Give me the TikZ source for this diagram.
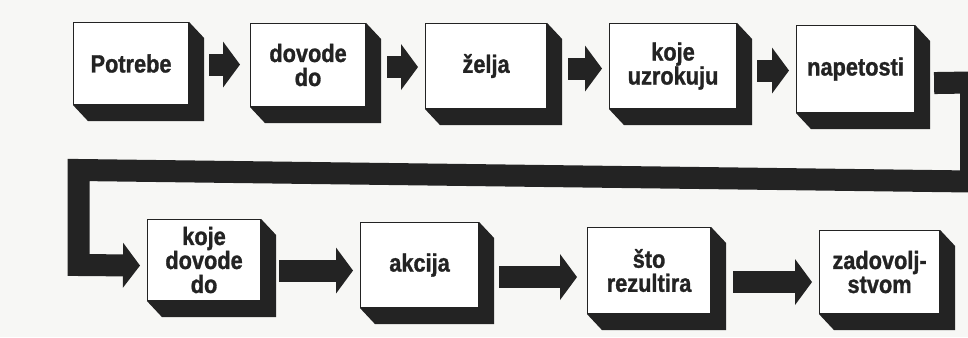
\documentclass[tikz,border=0pt]{standalone}
\usepackage{fontspec}
\setmainfont[FakeStretch=0.87,BoldFeatures={FakeBold=1.2}]{Liberation Sans}
\usetikzlibrary{arrows.meta,calc}
\definecolor{ink}{HTML}{232323}
\definecolor{paper}{HTML}{F7F7F5}
\newcommand\boxshade[1]{\fill[ink] (#1.north east) -- ++(15,16) -- ($(#1.south east)+(15,16)$) -- ($(#1.south west)+(15,16)$) -- (#1.south west) -- (#1.south east) -- cycle;}
\begin{document}
\begin{tikzpicture}[x=1pt,y=-1pt,
  box/.style={draw=ink, line width=1.1pt, fill=white, anchor=north west, align=center, inner sep=0pt, text=ink, font=\bfseries\fontsize{25}{24}\selectfont},
  barrow/.style={draw=ink, line width=22pt, line join=miter, -{Triangle[length=17pt,width=46pt,line width=0pt]}},
  bandarrow/.style={draw=ink, line width=22pt, line join=miter, -{Triangle[length=17pt,width=45pt,line width=0pt]}}
]
\useasboundingbox (0,0) rectangle (968,337);
\clip (0,0) rectangle (968,337);
\fill[paper] (0,0) rectangle (968,337);

% top row
\node[box, minimum width=115pt, minimum height=82pt] (p1) at (73,22) {Potrebe};
\node[box, minimum width=115pt, minimum height=83pt] (p2) at (250,23) {dovode\\do};
\node[box, minimum width=121pt, minimum height=85pt] (p3) at (425,23) {želja};
\node[box, minimum width=127pt, minimum height=85pt] (p4) at (609,23) {koje\\uzrokuju};
\node[box, minimum width=118pt, minimum height=87pt] (p5) at (796,25) {napetosti};
% bottom row
\node[box, minimum width=113pt, minimum height=81pt] (p6) at (147,219) {koje\\dovode\\do};
\node[box, minimum width=118pt, minimum height=85pt] (p7) at (360,222) {akcija};
\node[box, minimum width=123pt, minimum height=86pt] (p8) at (587,227) {što\\rezultira};
\node[box, minimum width=120pt, minimum height=83pt] (p9) at (819,230) {zadovolj-\\stvom};

\foreach \b in {p1,p2,p3,p4,p5,p6,p7,p8,p9} {\boxshade{\b}}

% arrows, top row
\draw[barrow] ([shift={(20,1)}]p1.east) coordinate (a1) -- ($(p2.west |- a1)+(-10,0)$);
\draw[barrow] ([shift={(21,2)}]p2.east) coordinate (a2) -- ($(p3.west |- a2)+(-7,0)$);
\draw[barrow] ([shift={(21,2.5)}]p3.east) coordinate (a3) -- ($(p4.west |- a3)+(-7,0)$);
\draw[barrow] ([shift={(20,4.5)}]p4.east) coordinate (a4) -- ($(p5.west |- a4)+(-7,0)$);

% return connector
\coordinate (c1) at (971,82.5);
\coordinate (c2) at (971,181.5);
\coordinate (c3) at (78.5,170);
\coordinate (c4) at (78.5,265);
\draw[bandarrow] ([shift={(19,14)}]p5.east) -- (c1) -- (c2) -- (c3) -- (c4) -- ($(p6.west)+(-7,5.5)$);

% arrows, bottom row
\draw[barrow] ([shift={(18,10.5)}]p6.east) coordinate (a6) -- ($(p7.west |- a6)+(-7,0)$);
\draw[barrow] ([shift={(20,12)}]p7.east) coordinate (a7) -- ($(p8.west |- a7)+(-10,0)$);
\draw[barrow] ([shift={(22,11.5)}]p8.east) coordinate (a8) -- ($(p9.west |- a8)+(-7,0)$);
\end{tikzpicture}
\end{document}
